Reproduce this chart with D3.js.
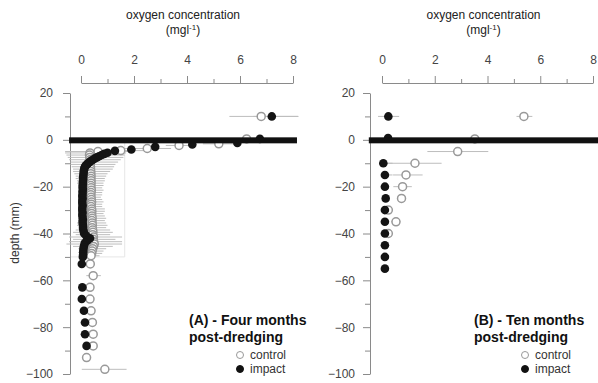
<!DOCTYPE html>
<html><head><meta charset="utf-8">
<script src="https://cdn.jsdelivr.net/npm/d3@7"></script>
<style>body{margin:0;background:#fff;} svg{display:block;}</style>
</head><body>
<svg id="chart" width="598" height="383"></svg>
<script>
// ---- data: [depth (mm), mean O2 (mg/l), error low, error high] ----
const xTicksMajor = [0, 2, 4, 6, 8];
const xTicksMinor = [1, 3, 5, 7];
const yTicksMajor = [20, 0, -20, -40, -60, -80, -100];
const yTicksMinor = [10, -10, -30, -50, -70, -90];
const seriesNames = ["control", "impact"];

const aControl = [
 [10, 6.8, 5.6, 8.2], [0.4, 6.25, 6.25, 6.25], [-1.7, 5.2, 4.6, 5.8], [-2.4, 3.7, 3.2, 4.3],
 [-3.7, 2.5, 1.6, 3.4], [-4.6, 1.5, 0.4, 2.6], [-5.0, 0.64, -0.6, 1.9], [-5.6, 0.34, -0.6, 1.7],
 [-6.5, 0.32, -0.55, 1.65], [-7.5, 0.33, -0.5, 1.6], [-8.5, 0.34, -0.45, 1.5], [-9.5, 0.35, -0.4, 1.4],
 [-10.5, 0.35, -0.4, 1.3], [-11.5, 0.36, -0.35, 1.25], [-12.5, 0.36, -0.3, 1.2], [-13.5, 0.37, -0.3, 1.1],
 [-14.5, 0.37, -0.25, 1.0], [-15.5, 0.38, -0.2, 0.95], [-16.5, 0.37, -0.2, 0.9], [-17.5, 0.38, -0.15, 0.9],
 [-18.5, 0.38, -0.15, 0.85], [-19.5, 0.37, -0.1, 0.85], [-20.5, 0.38, -0.1, 0.8], [-21.5, 0.39, -0.1, 0.85],
 [-22.5, 0.38, -0.1, 0.8], [-23.5, 0.37, -0.05, 0.8], [-24.5, 0.38, -0.05, 0.75], [-25.5, 0.39, -0.1, 0.8],
 [-26.5, 0.40, -0.1, 0.85], [-27.5, 0.39, -0.05, 0.8], [-28.5, 0.38, -0.05, 0.8], [-29.5, 0.40, -0.1, 0.9],
 [-30.5, 0.41, -0.1, 0.9], [-31.5, 0.40, -0.05, 0.85], [-32.5, 0.41, -0.1, 0.9], [-33.5, 0.42, -0.1, 0.95],
 [-34.5, 0.41, -0.1, 0.9], [-35.5, 0.42, -0.15, 0.95], [-36.5, 0.43, -0.15, 1.0], [-37.5, 0.42, -0.1, 0.95],
 [-38.5, 0.44, -0.2, 1.1], [-39.5, 0.45, -0.3, 1.2], [-40.5, 0.44, -0.2, 1.1], [-41.5, 0.47, -0.45, 1.55],
 [-42.5, 0.46, -0.3, 1.3], [-43.5, 0.48, -0.45, 1.55], [-44.5, 0.50, -0.55, 1.55], [-45.5, 0.47, -0.3, 1.2],
 [-46.5, 0.44, -0.1, 0.95], [-47.5, 0.42, -0.05, 0.85], [-48.5, 0.40, 0.0, 0.8], [-49.5, 0.38, 0.05, 0.7],
 [-53, 0.35, 0.2, 0.5], [-58, 0.46, 0.2, 0.75], [-63, 0.34, 0.25, 0.45], [-68, 0.34, 0.25, 0.45],
 [-73, 0.38, 0.3, 0.48], [-78, 0.43, 0.3, 0.55], [-83, 0.46, 0.35, 0.58], [-88, 0.46, 0.3, 0.6],
 [-93, 0.21, 0.1, 0.35], [-98, 0.9, 0.03, 1.72]
];
const aImpact = [
 [10, 7.2, 6.5, 8.2], [0.4, 6.75, 6.75, 6.75], [-1.3, 5.9, 5.9, 5.9], [-2.0, 4.2, 4.2, 4.2],
 [-3.0, 2.8, 2.8, 2.8], [-4.1, 1.9, 1.9, 1.9], [-4.7, 1.28, 1.28, 1.28], [-5.5, 1.0, 1.0, 1.0],
 [-6.0, 0.88, 0.88, 0.88], [-6.5, 0.78, 0.78, 0.78], [-7.0, 0.68, 0.68, 0.68], [-7.5, 0.6, 0.6, 0.6],
 [-8.0, 0.52, 0.52, 0.52], [-8.5, 0.45, 0.45, 0.45], [-9.0, 0.38, 0.38, 0.38], [-9.5, 0.32, 0.32, 0.32],
 [-10.0, 0.27, 0.27, 0.27], [-10.5, 0.22, 0.22, 0.22], [-11.0, 0.18, 0.18, 0.18], [-11.5, 0.15, 0.15, 0.15],
 [-12.0, 0.13, 0.13, 0.13], [-13, 0.11, 0.11, 0.11], [-14, 0.10, 0.10, 0.10], [-15, 0.09, 0.09, 0.09],
 [-16, 0.08, 0.08, 0.08], [-17, 0.08, 0.08, 0.08], [-18, 0.07, 0.07, 0.07], [-19, 0.07, 0.07, 0.07],
 [-20, 0.06, 0.06, 0.06], [-21, 0.07, 0.07, 0.07], [-22, 0.06, 0.06, 0.06], [-23, 0.06, 0.06, 0.06],
 [-24, 0.05, 0.05, 0.05], [-25, 0.06, 0.06, 0.06], [-26, 0.05, 0.05, 0.05], [-27, 0.05, 0.05, 0.05],
 [-28, 0.06, 0.06, 0.06], [-29, 0.05, 0.05, 0.05], [-30, 0.05, 0.05, 0.05], [-31, 0.06, 0.06, 0.06],
 [-32, 0.05, 0.05, 0.05], [-33, 0.06, 0.06, 0.06], [-34, 0.07, 0.07, 0.07], [-35, 0.06, 0.06, 0.06],
 [-36, 0.07, 0.07, 0.07], [-37, 0.08, 0.08, 0.08], [-38, 0.08, 0.08, 0.08], [-39, 0.10, 0.10, 0.10],
 [-40, 0.12, 0.12, 0.12], [-41, 0.20, 0.20, 0.20], [-42, 0.34, 0.34, 0.34], [-43, 0.24, 0.24, 0.24],
 [-44, 0.15, 0.15, 0.15], [-45, 0.12, 0.12, 0.12], [-46, 0.10, 0.10, 0.10], [-47, 0.09, 0.09, 0.09],
 [-48, 0.08, 0.08, 0.08], [-49, 0.08, 0.08, 0.08], [-50, 0.07, 0.07, 0.07],
 [-53, 0.03, 0.03, 0.03], [-63, 0.05, 0.05, 0.05], [-68, 0.03, 0.03, 0.03], [-73, 0.11, 0.11, 0.11],
 [-78, 0.15, 0.15, 0.15], [-83, 0.15, 0.15, 0.15], [-88, 0.21, 0.21, 0.21]
];
const bControl = [
 [10, 5.38, 5.1, 5.7], [0.4, 3.52, 3.52, 3.52], [-5, 2.87, 1.72, 4.03], [-10, 1.25, 0.18, 2.26],
 [-15, 0.91, 0.42, 1.54], [-20, 0.78, 0.43, 1.13], [-25, 0.74, 0.65, 0.85], [-30, 0.24, 0.2, 0.3],
 [-35, 0.53, 0.35, 0.7], [-40, 0.24, 0.2, 0.3]
];
const bImpact = [
 [10, 0.24, -0.15, 0.65], [0.8, 0.23, 0.23, 0.23], [-10, 0.05, 0.05, 0.4], [-15, 0.11, 0.11, 0.4],
 [-20, 0.11, 0.11, 0.11], [-25, 0.14, 0.14, 0.14], [-30, 0.11, 0.11, 0.11], [-35, 0.11, 0.11, 0.11],
 [-40, 0.11, 0.11, 0.11], [-45, 0.11, 0.11, 0.11], [-50, 0.11, 0.11, 0.11], [-55, 0.11, 0.11, 0.11]
];
const panelTitles = [["(A) - Four months", "post-dredging"], ["(B) - Ten months", "post-dredging"]];

// ---- drawing ----
const FONT = "'Liberation Sans', Arial, Helvetica, sans-serif";
const svg = d3.select("#chart");
svg.append("rect").attr("width", 598).attr("height", 383).attr("fill", "#fff");

const y = d3.scaleLinear().domain([20, -100]).range([93, 374]);

function styleAxis(g) {
  g.selectAll("path.domain").attr("stroke", "#8a8a8a").attr("stroke-width", 1);
  g.selectAll(".tick line").attr("stroke", "#8a8a8a");
  g.selectAll(".tick text").attr("fill", "#444").style("font-family", FONT).style("font-size", "12px");
}

function drawPanel(cfg) {
  const x = d3.scaleLinear().domain([0, 8]).range(cfg.xRange);
  const g = svg.append("g");

  if (cfg.box) {
    g.append("path")
      .attr("d", `M${x(cfg.box[0])},${y(cfg.box[1])} V${y(cfg.box[2])} H${cfg.axisX}`)
      .attr("fill", "none").attr("stroke", "#e6e6e6").attr("stroke-width", 1);
  }

  const xa = g.append("g").attr("transform", "translate(0,83)")
    .call(d3.axisTop(x).tickValues(xTicksMajor).tickSize(7).tickSizeOuter(0).tickPadding(12));
  styleAxis(xa);
  const xm = g.append("g").attr("transform", "translate(0,83)")
    .call(d3.axisTop(x).tickValues(xTicksMinor).tickSize(4).tickSizeOuter(0).tickFormat(""));
  xm.select("path.domain").remove();
  styleAxis(xm);

  const ya = g.append("g").attr("transform", `translate(${cfg.axisX},0)`)
    .call(d3.axisLeft(y).tickValues(yTicksMajor).tickSize(7).tickSizeOuter(0).tickPadding(cfg.yPad));
  styleAxis(ya);
  const ym = g.append("g").attr("transform", `translate(${cfg.axisX},0)`)
    .call(d3.axisLeft(y).tickValues(yTicksMinor).tickSize(5).tickSizeOuter(0).tickFormat(""));
  ym.select("path.domain").remove();
  styleAxis(ym);

  const cx = (cfg.xRange[0] + cfg.xRange[1]) / 2 - 4;
  g.append("text").attr("x", cx).attr("y", 19).attr("text-anchor", "middle")
    .style("font-family", FONT).style("font-size", "12px").attr("fill", "#222")
    .text("oxygen concentration");
  const t2 = g.append("text").attr("x", cx).attr("y", 34).attr("text-anchor", "middle")
    .style("font-family", FONT).style("font-size", "12px").attr("fill", "#222");
  t2.append("tspan").text("(mgl");
  t2.append("tspan").attr("dy", -4).style("font-size", "8px").text("-1");
  t2.append("tspan").attr("dy", 4).text(")");

  const all = cfg.control.concat(cfg.impact);
  g.append("g").selectAll("line").data(all.filter(d => d[3] > d[2])).join("line")
    .attr("x1", d => x(d[2])).attr("x2", d => x(d[3]))
    .attr("y1", d => y(d[0])).attr("y2", d => y(d[0]))
    .attr("stroke", "#bdbdbd").attr("stroke-width", 1);

  g.append("g").selectAll("circle").data(cfg.control).join("circle")
    .attr("cx", d => x(d[1])).attr("cy", d => y(d[0])).attr("r", 4)
    .attr("fill", "#fff").attr("stroke", "#999").attr("stroke-width", 1.5);
  g.append("g").selectAll("circle").data(cfg.impact).join("circle")
    .attr("cx", d => x(d[1])).attr("cy", d => y(d[0])).attr("r", 4.3)
    .attr("fill", "#141414");

  g.append("rect")
    .attr("x", x(cfg.band[0])).attr("width", x(cfg.band[1]) - x(cfg.band[0]))
    .attr("y", y(0) - 2.5).attr("height", 6).attr("fill", "#111");

  const lt = g.append("text").style("font-family", FONT).style("font-size", "14px")
    .style("font-weight", "bold").attr("fill", "#111");
  lt.append("tspan").attr("x", cfg.legendX).attr("y", 325).text(cfg.titles[0]);
  lt.append("tspan").attr("x", cfg.legendX).attr("y", 342).text(cfg.titles[1]);
  const lx = cfg.legendX + 51;
  seriesNames.forEach((name, i) => {
    const yy = 355 + i * 14;
    g.append("circle").attr("cx", lx).attr("cy", yy).attr("r", 3.5)
      .attr("fill", i === 0 ? "#fff" : "#111").attr("stroke", i === 0 ? "#999" : "#111").attr("stroke-width", 1);
    g.append("text").attr("x", lx + 10).attr("y", yy + 4)
      .style("font-family", FONT).style("font-size", "12px").attr("fill", "#333").text(name);
  });
}

drawPanel({xRange: [81, 293], axisX: 70, yPad: 10, control: aControl, impact: aImpact,
  band: [-0.45, 8.15], box: [1.65, -0.2, -50], legendX: 189, titles: panelTitles[0]});
drawPanel({xRange: [382, 593], axisX: 370, yPad: 8, control: bControl, impact: bImpact,
  band: [-0.5, 8.2], box: null, legendX: 474, titles: panelTitles[1]});

svg.append("text").attr("transform", "translate(19,233) rotate(-90)").attr("text-anchor", "middle")
  .style("font-family", FONT).style("font-size", "12px").attr("fill", "#333").text("depth (mm)");
</script>
</body></html>
